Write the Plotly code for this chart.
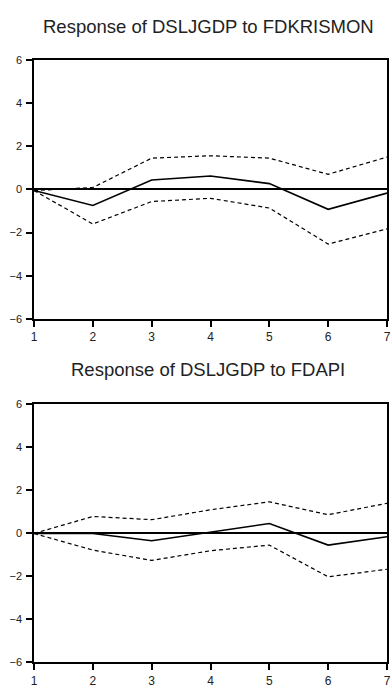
import plotly.graph_objects as go

periods = [1, 2, 3, 4, 5, 6, 7]
x_tick_labels = ["1", "2", "3", "4", "5", "6", "7"]
y_tick_vals = [-6, -4, -2, 0, 2, 4, 6]

title_top = "Response of DSLJGDP to FDKRISMON"
resp_top = [-0.05, -0.74, 0.44, 0.62, 0.27, -0.92, -0.17]
upper_top = [-0.05, 0.09, 1.45, 1.56, 1.45, 0.70, 1.50]
lower_top = [-0.05, -1.60, -0.56, -0.41, -0.86, -2.53, -1.83]

title_bot = "Response of DSLJGDP to FDAPI"
resp_bot = [-0.02, -0.02, -0.36, 0.05, 0.44, -0.56, -0.17]
upper_bot = [-0.02, 0.77, 0.62, 1.08, 1.45, 0.85, 1.38]
lower_bot = [-0.02, -0.79, -1.27, -0.82, -0.56, -2.03, -1.68]

W, H = 391, 688
L, R = 33.5, 4
FONT = "Liberation Sans, Arial, sans-serif"

fig = go.Figure()

panels = [
    (title_top, resp_top, upper_top, lower_top, "x", "y", 21),
    (title_bot, resp_bot, upper_bot, lower_bot, "x2", "y2", 371),
]

for title, resp, up, lo, xa, ya, ty in panels:
    for vals, dash, w in [(up, "4px,3px", 1.2), (lo, "4px,3px", 1.2), (resp, "solid", 1.6)]:
        fig.add_trace(go.Scatter(x=periods, y=vals, mode="lines", xaxis=xa, yaxis=ya,
                                 line=dict(color="black", width=w, dash=dash),
                                 showlegend=False, hoverinfo="skip"))
    fig.add_annotation(text=title, xref="paper", yref="paper",
                       x=(208 - L) / (W - L - R), y=1 - ty / H,
                       xanchor="center", yanchor="middle", showarrow=False,
                       font=dict(family=FONT, size=18.5, color="#222"))

axis_common = dict(showgrid=False, showline=True, linecolor="black", linewidth=1.5,
                   mirror=True, ticks="outside", ticklen=6, tickwidth=1.5, tickcolor="black")

xfont = dict(family=FONT, size=12, color="#222")
yfont = dict(family=FONT, size=11, color="#222")

def dom(ytop, ybot):
    return [1 - ybot / H, 1 - ytop / H]

fig.update_layout(
    width=W, height=H,
    margin=dict(l=L, r=R, t=0, b=0),
    paper_bgcolor="white", plot_bgcolor="white",
    xaxis=dict(range=[1, 7], tickvals=periods, ticktext=x_tick_labels, tickfont=xfont,
               anchor="y", domain=[0, 1], zeroline=False, **axis_common),
    yaxis=dict(range=[-6, 6], tickvals=y_tick_vals, anchor="x", domain=dom(55, 319.5),
               tickfont=yfont, ticklabelstandoff=2,
               zeroline=True, zerolinecolor="black", zerolinewidth=1.5, **axis_common),
    xaxis2=dict(range=[1, 7], tickvals=periods, ticktext=x_tick_labels, tickfont=xfont,
                anchor="y2", domain=[0, 1], zeroline=False, **axis_common),
    yaxis2=dict(range=[-6, 6], tickvals=y_tick_vals, anchor="x2", domain=dom(406, 670),
                tickfont=yfont, ticklabelstandoff=2,
                zeroline=True, zerolinecolor="black", zerolinewidth=1.5, **axis_common),
)

fig.write_html("out.html", config={"displayModeBar": False},
               post_script="document.body.style.margin='0';document.body.style.overflow='hidden';")
